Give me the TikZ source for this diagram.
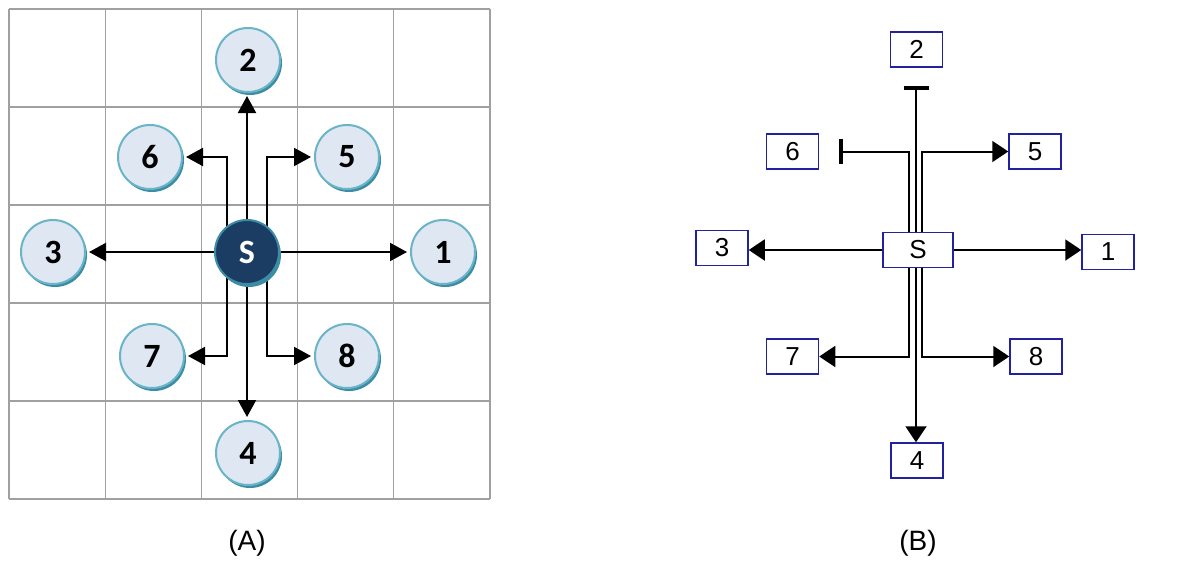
\documentclass[tikz,border=0pt]{standalone}
\usepackage{fontspec}
\setmainfont{Liberation Sans}
\newfontfamily\calibfont{Carlito}
\usetikzlibrary{arrows.meta,shadows,backgrounds}
\pgfdeclarelayer{gridlayer}
\pgfsetlayers{gridlayer,background,main}
\definecolor{cfill}{HTML}{DFE8F2}
\definecolor{cedge}{HTML}{6AB4C8}
\definecolor{cshadow}{HTML}{3C8CA6}
\definecolor{sfill}{HTML}{1B3D63}
\definecolor{gridc}{HTML}{A0A0A0}
\definecolor{boxc}{HTML}{2222A0}
\begin{document}
\begin{tikzpicture}[x=1pt,y=-1pt,
  cnode/.style={circle, minimum size=64pt, inner sep=0pt, outer sep=4pt,
    fill=cfill, draw=cedge, line width=2pt,
    font=\calibfont\bfseries\fontsize{34}{34}\selectfont,
    drop shadow={shadow xshift=2pt, shadow yshift=-3pt, fill=cshadow, opacity=1}},
  snode/.style={cnode, fill=sfill, draw=cshadow, text=white},
  larr/.style={draw=black, line width=2pt, -{Triangle[length=17pt,width=18pt]}},
  bnode/.style={draw=boxc, line width=1.5pt, fill=white, minimum width=52pt,
    minimum height=35pt, inner sep=0pt, font=\fontsize{26}{26}\selectfont},
  rarr/.style={draw=black, line width=2pt, -{Triangle[length=16pt,width=21pt]}},
  rbar/.style={draw=black, line width=2pt, -{Bar[width=25pt,line width=4pt]}},
  lab/.style={font=\fontsize{28}{28}\selectfont}
]
\useasboundingbox (0,0) rectangle (1200,581);
% grid
\begin{pgfonlayer}{gridlayer}
\fill[white] (0,0) rectangle (1200,581);
\foreach \x in {9,105.5,201.5,297.5,393.5,490} \draw[gridc, line width=1.6pt] (\x,9) -- (\x,499);
\foreach \y in {9,107,205,303,401,499} \draw[gridc, line width=1.6pt] (9,\y) -- (490,\y);
\end{pgfonlayer}
% (A) nodes
\node[snode] (nS) at (247,252) {S};
\node[cnode] (n1) at (443,252) {1};
\node[cnode] (n2) at (248,60) {2};
\node[cnode] (n3) at (53,252) {3};
\node[cnode] (n4) at (248,453) {4};
\node[cnode] (n5) at (347,157) {5};
\node[cnode] (n6) at (150,157) {6};
\node[cnode] (n7) at (152,356) {7};
\node[cnode] (n8) at (347,356) {8};
\begin{pgfonlayer}{background}
\draw[larr] (nS.center) -- (nS.center -| n1.west);
\draw[larr] (nS.center) -- (nS.center -| n3.east);
\draw[larr] (nS.center) -- (nS.center |- n2.south);
\draw[larr] (nS.center) -- (nS.center |- n4.north);
\draw[larr] ([xshift=20pt]nS.center) |- (n5.west);
\draw[larr] ([xshift=-20pt]nS.center) |- (n6.east);
\draw[larr] ([xshift=-20pt]nS.center) |- (n7.east);
\draw[larr] ([xshift=20pt]nS.center) |- (n8.west);
\end{pgfonlayer}
\node[lab] (la) at (247,543) {(A)};
% (B) nodes
\node[bnode, minimum width=70pt] (bS) at (918,250) {S};
\node[bnode] (b1) at (1108,252) {1};
\node[bnode] (b2) at (916.5,49.5) {2};
\node[bnode] (b3) at (722,248) {3};
\node[bnode] (b4) at (917,460.5) {4};
\node[bnode] (b5) at (1035,151.5) {5};
\node[bnode] (b6) at (792.5,151.5) {6};
\node[bnode] (b7) at (792.5,356.5) {7};
\node[bnode] (b8) at (1036,356.5) {8};
\coordinate (c2) at ([yshift=-18pt]b2.south);
\coordinate (c6) at ([xshift=20pt]b6.east);
\draw[rarr] (bS.east) -- (bS.east -| b1.west);
\draw[rarr] (bS.west) -- (bS.west -| b3.east);
\draw[rbar] ([xshift=-2pt]bS.north) -- ([xshift=-2pt]bS.north |- c2);
\draw[rbar] ([xshift=-9pt]bS.north) |- (c6);
\draw[rarr] ([xshift=4pt]bS.north) |- (b5.west);
\draw[rarr] ([xshift=-9pt]bS.south) |- (b7.east);
\draw[rarr] ([xshift=4pt]bS.south) |- (b8.west);
\draw[rarr] ([xshift=-2pt]bS.south) -- ([xshift=-2pt]bS.south |- b4.north);
\node[lab] (lb) at (918,543) {(B)};
\end{tikzpicture}
\end{document}
